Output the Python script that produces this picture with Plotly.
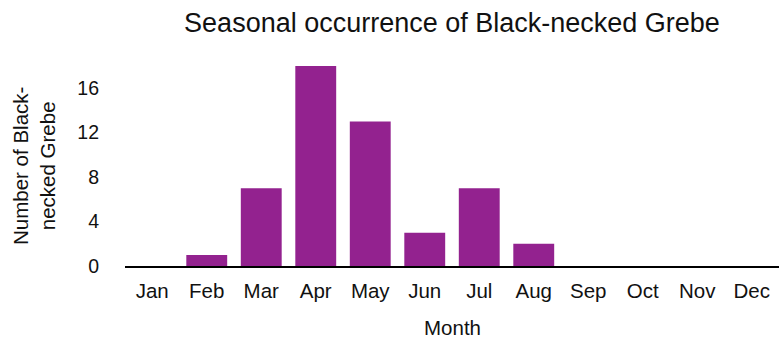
import plotly.graph_objects as go

months = ["Jan", "Feb", "Mar", "Apr", "May", "Jun", "Jul", "Aug", "Sep", "Oct", "Nov", "Dec"]
counts = [0, 1, 7, 18, 13, 3, 7, 2, 0, 0, 0, 0]
y_ticks = [0, 4, 8, 12, 16]

W, H = 781, 338
L, R, T, B = 125, 2, 66, 72
pw = W - L - R

fig = go.Figure(go.Bar(x=months, y=counts, marker=dict(color="#93228F", line=dict(width=0)), width=0.75))

font = "Helvetica, Arial, 'Liberation Sans', sans-serif"
fig.update_layout(
    width=W, height=H,
    margin=dict(l=L, r=R, t=T, b=B),
    paper_bgcolor="white", plot_bgcolor="white",
    font=dict(family=font, size=20, color="#111"),
    title=dict(text="Seasonal occurrence of Black-necked Grebe", x=(L + pw / 2) / W, xanchor="center",
               y=1 - 23 / H, yanchor="middle", font=dict(size=27, color="#111")),
    showlegend=False,
    bargap=0.25,
)
fig.update_xaxes(showgrid=False, showline=True, linecolor="black", linewidth=2,
                 ticks="", tickfont=dict(size=20.5), ticklabelstandoff=5, zeroline=False)
fig.update_yaxes(range=[0, 18], tickvals=y_ticks, showgrid=False, zeroline=False, showline=False,
                 ticks="", tickfont=dict(size=19.5), ticklabelstandoff=25)
fig.add_annotation(text="Number of Black-<br>necked Grebe", textangle=-90, xref="paper", yref="paper",
                   x=(34 - L) / pw, y=0.5, showarrow=False, font=dict(size=20.5), xanchor="center", yanchor="middle")
fig.add_annotation(text="Month", xref="paper", yref="paper", x=0.5, y=-(327 - 266) / 200,
                   showarrow=False, font=dict(size=20.5), xanchor="center", yanchor="middle")

fig.write_html("out.html")
